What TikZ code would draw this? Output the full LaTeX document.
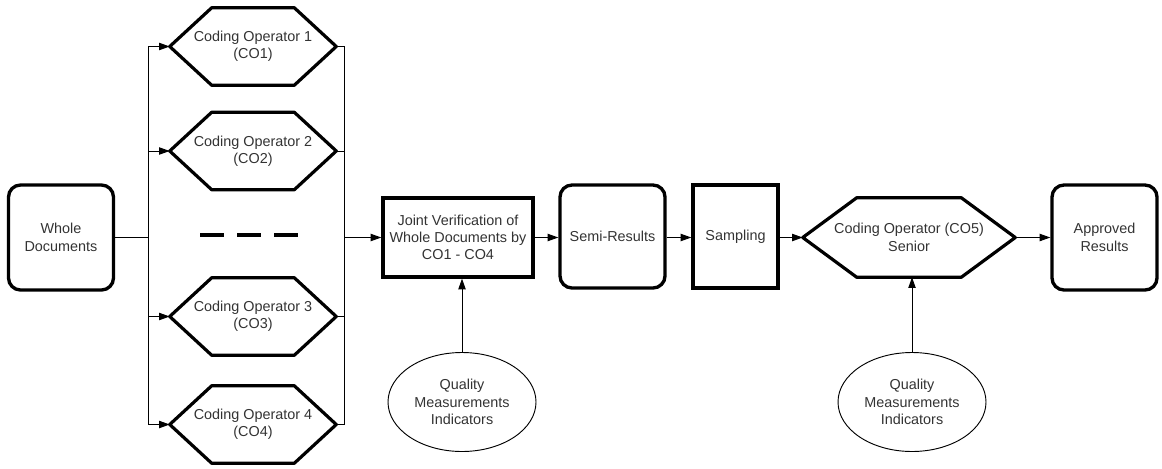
\documentclass[tikz,border=0pt]{standalone}
\usepackage{fontspec}
\setmainfont{Liberation Sans}
\usetikzlibrary{arrows.meta,shapes.geometric}
\newcommand\hexdraw[2]{\draw[hexline] (#1.west) -- ([xshift=#2]#1.north west) -- ([xshift=-#2]#1.north east) -- (#1.east) -- ([xshift=-#2]#1.south east) -- ([xshift=#2]#1.south west) -- cycle;}
\tikzset{
  every node/.style={font=\fontsize{10.8}{13}\selectfont, text=black!80, align=center, inner sep=0pt},
  rbox/.style={draw=black, line width=2.5pt, rounded corners=9pt, minimum width=78.75pt, minimum height=77.25pt},
  sqbox/.style={draw=black, line width=2.5pt, minimum height=77.25pt},
  hexnode/.style={minimum width=124.5pt, minimum height=57.75pt},
  hexline/.style={draw=black, line width=2.4pt, line join=round},
  qell/.style={draw, ellipse, line width=0.7pt, minimum width=111pt, minimum height=74.25pt},
  conn/.style={draw, line width=0.75pt},
  arr/.style={conn, -{Triangle[length=8pt,width=5.5pt]}},
}
\begin{document}
\begin{tikzpicture}[x=0.75pt,y=-0.75pt]
\useasboundingbox (0,0) rectangle (1162,468);
% nodes
\node[rbox, minimum height=78.75pt] (wd) at (61,237.5) {Whole\\Documents};
\node[hexnode] (co1) at (253,46.5) {Coding Operator 1\\(CO1)};
\node[hexnode] (co2) at (253,151) {Coding Operator 2\\(CO2)};
\node[hexnode] (co3) at (253,316.5) {Coding Operator 3\\(CO3)};
\node[hexnode] (co4) at (253,424.5) {Coding Operator 4\\(CO4)};
\hexdraw{co1}{31.5pt}
\hexdraw{co2}{31.5pt}
\hexdraw{co3}{31.5pt}
\hexdraw{co4}{31.5pt}
\node[sqbox, minimum width=112.5pt, minimum height=59.25pt] (jv) at (458,237.5) {Joint Verification of\\Whole Documents by\\CO1 - CO4};
\node[rbox] (sr) at (612.5,236.5) {Semi-Results};
\node[sqbox, minimum width=63.75pt] (sa) at (735.5,236.5) {Sampling};
\node[hexnode, minimum width=159pt, minimum height=59.25pt] (co5) at (909,237.5) {Coding Operator (CO5)\\Senior};
\hexdraw{co5}{40.5pt}
\node[rbox, minimum height=78.75pt] (ar) at (1104.5,237.5) {Approved\\Results};
\node[qell] (q1) at (462,402) {Quality\\Measurements\\Indicators};
\node[qell] (q2) at (912,402) {Quality\\Measurements\\Indicators};
% dashes
\draw[line width=3pt, dash pattern=on 18pt off 9.75pt] (200,235) -- (300,235);
% buses
\coordinate (lbus) at (148,237.5);
\coordinate (rbus) at (344,237.5);
\draw[conn] (wd.east) -- (lbus);
\draw[conn] (co1.west -| lbus) -- (co4.west -| lbus);
\draw[arr] (co1.west -| lbus) -- (co1.west);
\draw[arr] (co2.west -| lbus) -- (co2.west);
\draw[arr] (co3.west -| lbus) -- (co3.west);
\draw[arr] (co4.west -| lbus) -- (co4.west);
\draw[conn] (co1.east) -- (co1.east -| rbus) -- (co4.east -| rbus) -- (co4.east);
\draw[conn] (co2.east) -- (co2.east -| rbus);
\draw[conn] (co3.east) -- (co3.east -| rbus);
\draw[arr] (rbus) -- (jv.west);
\draw[arr] (jv.east) -- (sr.west |- jv.east);
\draw[arr] (sr.east |- jv.east) -- (sa.west |- jv.east);
\draw[arr] (sa.east |- co5.west) -- (co5.west);
\draw[arr] (co5.east) -- (ar.west);
\draw[arr] (q1.north) -- (q1.north |- jv.south);
\draw[arr] (q2.north) -- (q2.north |- co5.south);
\end{tikzpicture}
\end{document}
